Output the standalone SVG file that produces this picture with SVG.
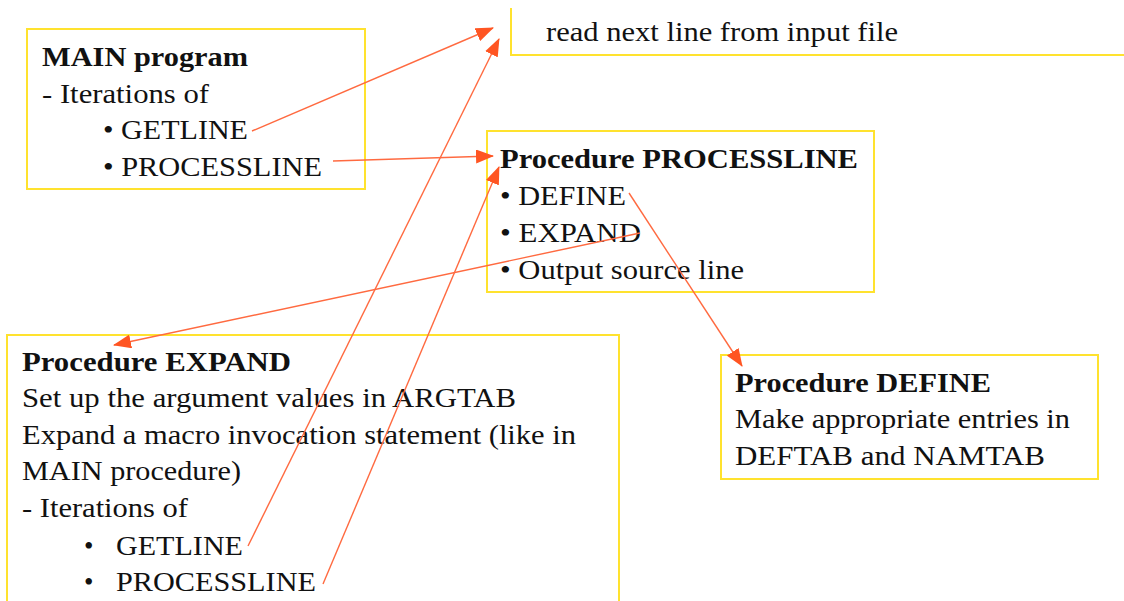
<svg xmlns="http://www.w3.org/2000/svg" width="1124" height="601" viewBox="0 0 1124 601">
<style>
.box{fill:none;stroke:#FFE22E;stroke-width:2}
.t{font-family:"Liberation Serif","Times New Roman",serif;font-size:27px;fill:#111}
.b{font-weight:bold}
.c{stroke:#FF6A40;stroke-width:1.4;fill:none;marker-end:url(#ah)}
</style>
<defs>
<marker id="ah" markerUnits="userSpaceOnUse" markerWidth="18" markerHeight="14" refX="17" refY="7" orient="auto">
<path d="M0,0 L18,7 L0,14 Z" fill="#FF5522"/>
</marker>
</defs>
<rect width="1124" height="601" fill="#fff"/>
<g id="readline">
<path class="box" d="M511,8 V55 H1124"/>
<text class="t" x="546" y="41" textLength="352" lengthAdjust="spacingAndGlyphs">read next line from input file</text>
</g>
<g id="main">
<rect class="box" x="27" y="29" width="338" height="160"/>
<text class="t b" x="42" y="66" textLength="206" lengthAdjust="spacingAndGlyphs">MAIN program</text>
<text class="t" x="42" y="103" textLength="167" lengthAdjust="spacingAndGlyphs">- Iterations of</text>
<text class="t" x="103" y="139" textLength="145" lengthAdjust="spacingAndGlyphs">• GETLINE</text>
<text class="t" x="103" y="176" textLength="219" lengthAdjust="spacingAndGlyphs">• PROCESSLINE</text>
</g>
<g id="processline">
<rect class="box" x="487" y="131" width="387" height="161"/>
<text class="t b" x="500" y="168" textLength="358" lengthAdjust="spacingAndGlyphs">Procedure PROCESSLINE</text>
<text class="t" x="500" y="205" textLength="126" lengthAdjust="spacingAndGlyphs">• DEFINE</text>
<text class="t" x="500" y="242" textLength="141" lengthAdjust="spacingAndGlyphs">• EXPAND</text>
<text class="t" x="500" y="279" textLength="244" lengthAdjust="spacingAndGlyphs">• Output source line</text>
</g>
<g id="expand">
<path class="box" d="M7,601 V335 H619 V601"/>
<text class="t b" x="22" y="371" textLength="269" lengthAdjust="spacingAndGlyphs">Procedure EXPAND</text>
<text class="t" x="22" y="407" textLength="494" lengthAdjust="spacingAndGlyphs">Set up the argument values in ARGTAB</text>
<text class="t" x="22" y="444" textLength="554" lengthAdjust="spacingAndGlyphs">Expand a macro invocation statement (like in</text>
<text class="t" x="22" y="480" textLength="219" lengthAdjust="spacingAndGlyphs">MAIN procedure)</text>
<text class="t" x="22" y="517" textLength="166" lengthAdjust="spacingAndGlyphs">- Iterations of</text>
<text class="t" x="84" y="555">•</text>
<text class="t" x="116" y="555" textLength="127" lengthAdjust="spacingAndGlyphs">GETLINE</text>
<text class="t" x="84" y="591">•</text>
<text class="t" x="116" y="591" textLength="200" lengthAdjust="spacingAndGlyphs">PROCESSLINE</text>
</g>
<g id="define">
<rect class="box" x="721" y="355" width="377" height="124"/>
<text class="t b" x="735" y="392" textLength="256" lengthAdjust="spacingAndGlyphs">Procedure DEFINE</text>
<text class="t" x="735" y="428" textLength="335" lengthAdjust="spacingAndGlyphs">Make appropriate entries in</text>
<text class="t" x="735" y="465" textLength="310" lengthAdjust="spacingAndGlyphs">DEFTAB and NAMTAB</text>
</g>
<g id="connectors">
<line class="c" x1="252" y1="131" x2="493" y2="28"/>
<line class="c" x1="333" y1="161" x2="493" y2="156"/>
<line class="c" x1="248" y1="546" x2="499" y2="39"/>
<line class="c" x1="323" y1="584" x2="499" y2="167"/>
<line class="c" x1="640" y1="233" x2="114" y2="345"/>
<line class="c" x1="629" y1="193" x2="742" y2="366"/>
</g>
</svg>
